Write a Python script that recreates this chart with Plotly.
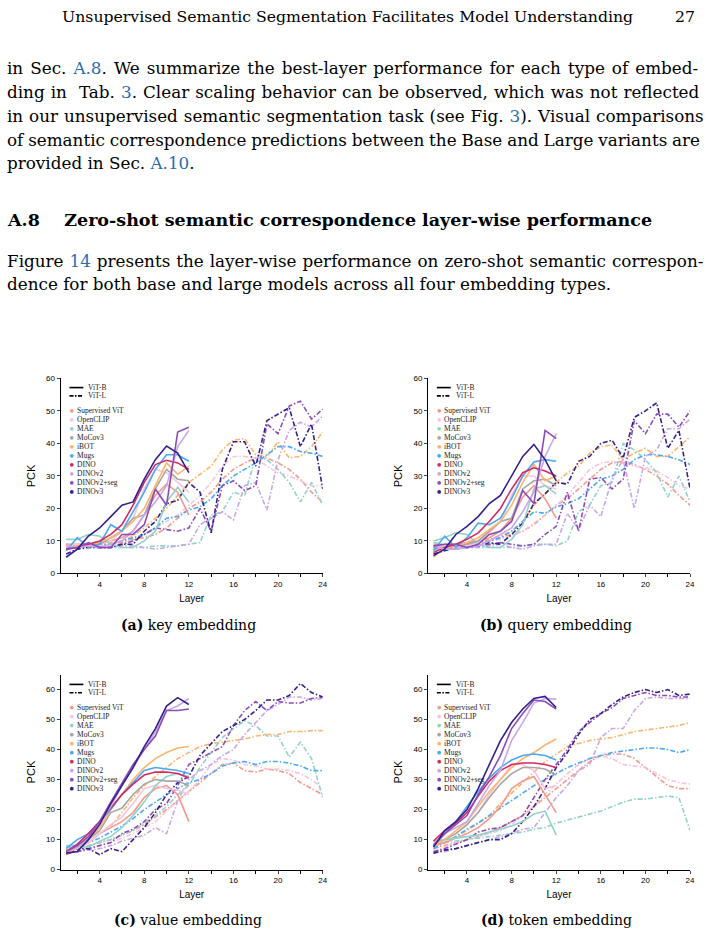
import plotly.graph_objects as go

W, H = 706, 940

models = ["Supervised ViT", "OpenCLIP", "MAE", "MoCov3", "iBOT", "Mugs",
          "DINO", "DINOv2", "DINOv2+seg", "DINOv3"]
colors = ["#F39A8A", "#F7C4DF", "#93D2C9", "#A6A6A6", "#FDB46E", "#4AA8F7",
          "#D42A63", "#C9A6E8", "#8C4CB8", "#33208A"]

layers_base = list(range(1, 13))
layers_large = list(range(1, 25))

# ---------------- key embedding ----------------
key_base = {
    "Supervised ViT": [9, 9, 9, 9.5, 10, 11, 13, 18, 24, 27.5, 25, 18],
    "OpenCLIP": [8.5, 9, 8.5, 9, 10, 13, 17, 26, 32, 31, 28, 25],
    "MAE": [10.5, 10.5, 12, 11.5, 9, 8, 8, 10, 13, 22, 26.5, 22],
    "MoCov3": [8, 8, 9, 9, 11, 13, 17, 18, 26, 32, 29, 28.5],
    "iBOT": [8, 8.5, 9, 9.5, 11, 13, 16, 20, 27, 34, 30.5, 33],
    "Mugs": [7, 11, 8, 9, 15, 13, 19, 25, 32, 36.5, 36.5, 34.5],
    "DINO": [7.5, 8, 9, 10, 12, 15, 21, 28, 33.5, 34.8, 34, 32],
    "DINOv2": [8.5, 8, 8.5, 8, 9, 10, 13, 18, 22, 27, 39, 44],
    "DINOv2+seg": [7.5, 8, 9.5, 8, 8, 12, 12, 15, 26, 21, 43.5, 45],
    "DINOv3": [5, 7.5, 11.5, 14, 17.5, 21, 22, 29, 35, 39.2, 37, 31],
}
key_large = {
    "Supervised ViT": [8, 8, 8.5, 8.5, 9, 9.5, 10.5, 11, 12, 14, 17, 20, 22, 25, 29, 32, 34, 35.5, 35.5, 34, 32, 29, 25, 22],
    "OpenCLIP": [8, 8, 8, 8.5, 9, 10, 10, 12, 14, 16, 18, 21, 24, 28, 33, 36, 36, 35.5, 33, 31, 30, 28.5, 27, 27],
    "MAE": [9, 8.5, 8, 8, 8, 8, 8, 8, 8.5, 8.5, 8.5, 9, 9.5, 18, 19, 25, 24, 36, 35, 32, 28, 22, 28, 21],
    "iBOT": [7.5, 8, 8.5, 9, 9.5, 10, 11.5, 14, 17, 20, 24, 28, 30.5, 33, 38, 41, 41.5, 36.5, 36, 40.5, 35.5, 36, 39, 43.5],
    "Mugs": [8, 8, 8.5, 9, 9, 10, 11, 12, 14, 17, 17.5, 19.5, 20.5, 23, 27, 30, 32, 34, 36.5, 39, 39, 37.5, 37, 36],
    "DINOv2": [9, 8.5, 8, 8, 8, 8.5, 8.5, 8, 7.5, 8, 8.5, 9, 15, 17, 19, 16.5, 27, 28, 19.5, 35, 44, 46.5, 45, 48.5],
    "DINOv2+seg": [8, 8, 8.5, 8, 8, 9, 10, 12, 14, 13.5, 13, 14, 20, 13, 27, 28.5, 25.5, 27, 46, 43, 51.5, 53, 47.5, 50.5],
    "DINOv3": [6, 7.5, 8, 8, 8, 9, 9, 13, 16, 21.5, 22.5, 28, 25, 12.5, 32, 40.5, 40.5, 33, 47, 49, 51, 39, 46, 26],
}

# ---------------- query embedding ----------------
query_base = {
    "Supervised ViT": [9, 8.5, 9, 9.5, 10, 11, 13, 17, 23.5, 27, 23, 17],
    "OpenCLIP": [8, 8.5, 8, 8.5, 9.5, 12.5, 16, 24, 30, 30, 27, 26],
    "MAE": [10, 11, 12.5, 12, 9, 8, 8, 10.5, 15, 26, 27, 24.5],
    "MoCov3": [8, 8, 8.5, 9, 10, 13, 16, 17, 26, 28.5, 29, 27],
    "iBOT": [5, 8, 8.5, 9.5, 11, 13.5, 16, 21, 28, 33.5, 28.5, 30],
    "Mugs": [7, 11.5, 8, 11, 15.5, 15, 17, 23, 30, 34.3, 35, 34.5],
    "DINO": [6.5, 8, 9, 10.5, 12.5, 16, 20, 26, 31, 32.5, 31.5, 30],
    "DINOv2": [8.5, 7.5, 7.5, 8, 8.5, 10, 12, 14, 19, 25, 36, 43],
    "DINOv2+seg": [8.5, 9, 9, 8, 9, 12, 13, 16, 25.5, 21.5, 44, 41.5],
    "DINOv3": [5.5, 7.5, 12, 14.5, 17.5, 21.5, 24, 30, 36, 39.7, 35, 28.5],
}
query_large = {
    "Supervised ViT": [8, 8, 8.5, 9, 9, 10, 11, 12, 13, 15, 18, 21, 23, 26, 29, 32, 34, 34.5, 33.5, 32, 30, 27.5, 24, 21],
    "OpenCLIP": [8, 8, 8, 8.5, 9, 10, 10.5, 11.5, 13, 15.5, 18, 21, 24, 28, 32, 34, 34.5, 34, 33, 32.5, 31.5, 29.5, 27, 26],
    "MAE": [9.5, 9, 8.5, 8, 8, 8, 8, 8, 8.5, 9, 9, 8.5, 10, 19, 21, 27, 28, 40, 38, 35, 31, 23.5, 30, 22],
    "iBOT": [6.5, 8, 8.5, 9, 9.5, 10.5, 11.5, 13, 16, 21, 24.5, 28, 31, 33, 37, 39, 39.5, 35, 37, 38.5, 36, 36, 39, 42],
    "Mugs": [7.5, 8, 8.5, 9, 9.5, 10, 11, 13, 16, 19, 18.5, 20.5, 21.5, 23, 26, 29, 30, 32, 35, 36.5, 36.5, 36, 35, 33.5],
    "DINOv2": [8, 8, 7.5, 8, 8, 8.5, 9, 8, 7.5, 8.5, 9, 9, 18.5, 13.5, 21, 17.5, 29, 35, 20, 36, 38, 44.5, 44.5, 47.5],
    "DINOv2+seg": [8.5, 8, 8, 8, 8.5, 9, 9.5, 9, 8.5, 9, 12, 14.5, 25, 13, 29, 29.5, 26, 29, 47, 43, 49, 49, 45, 50],
    "DINOv3": [6, 7, 8, 8, 8.5, 9.5, 9, 12, 15.5, 21.5, 24.5, 28, 27.5, 34.5, 36, 40, 41, 35.5, 48, 50, 52.5, 38.5, 44, 26],
}

# ---------------- value embedding ----------------
value_base = {
    "Supervised ViT": [6.5, 7.5, 9, 12, 14, 16, 19, 24, 27, 28, 25, 16],
    "OpenCLIP": [6, 7, 9, 12, 15, 17.5, 22, 27, 28, 27, 26.5, 25],
    "MAE": [8, 8, 7.5, 9.5, 11, 14, 18, 22.5, 28, 31, 32, 31],
    "MoCov3": [6, 7.5, 10, 13, 19, 20.5, 25, 28.5, 30, 29.5, 29.5, 28],
    "iBOT": [5, 7.5, 10, 14, 20, 25, 30, 34, 37, 39, 40.5, 41],
    "Mugs": [7, 10, 12, 16, 20, 25, 29, 33, 34, 33.5, 33, 32],
    "DINO": [6, 8.5, 12, 16, 20.5, 25, 28.5, 31.5, 32.5, 32.5, 32, 30.5],
    "DINOv2": [6, 7.5, 10.5, 15.5, 21, 28, 34, 40, 46, 53, 54.5, 57],
    "DINOv2+seg": [6, 8, 11, 16, 22.5, 29, 35, 40, 44.5, 53, 53, 53.5],
    "DINOv3": [5.5, 6, 10, 15, 22, 28, 34, 41, 47, 54.5, 57.3, 55],
}
value_large = {
    "Supervised ViT": [6, 7, 8, 9, 10, 11.5, 13, 15, 17.5, 20, 23, 26, 29, 32, 35, 35.5, 33, 32.5, 33.5, 33, 32, 29, 27, 25],
    "OpenCLIP": [5.5, 6, 7, 8, 9, 10.5, 12, 14, 16, 19.5, 23, 26, 30, 35, 37, 36.5, 35, 34.5, 33.5, 33.5, 33, 32, 30, 27],
    "MAE": [7.5, 7.5, 8, 9, 10, 11.5, 13, 15.5, 18, 21, 25, 28, 34, 39, 44, 47, 49.5, 48, 44.5, 44.5, 37.5, 42.5, 37, 24],
    "iBOT": [5, 7, 9, 12, 14.5, 19, 24, 28, 31, 34, 37, 39, 41, 42, 42.5, 43, 43.5, 44.5, 45, 45, 46, 46, 46.3, 46.3],
    "Mugs": [6, 7, 9, 10.5, 12.5, 14.5, 17, 20, 22.5, 25, 27, 29, 30, 32, 34.5, 35.5, 36, 35, 36, 36, 35.5, 34.5, 33, 33],
    "DINOv2": [5.5, 6, 6.5, 7, 8, 9.5, 10.5, 11.5, 14, 12, 23, 30, 33, 35, 38, 40, 45, 49, 53, 55, 57.5, 57.5, 56.5, 57],
    "DINOv2+seg": [5.5, 6, 7, 8, 9, 12, 13.5, 16, 20, 22, 28, 35, 37, 39, 41, 48, 53, 56, 53, 56, 55.5, 55.5, 57, 57.5],
    "DINOv3": [5, 7, 7, 5, 7, 6, 10, 14, 19, 25, 29, 31, 38, 42, 46, 48, 50, 53, 56.5, 56.5, 58, 62, 59, 57.5],
}

# ---------------- token embedding ----------------
token_base = {
    "Supervised ViT": [8, 9, 10.5, 12, 14, 17, 21, 27, 29.5, 31, 25, 19],
    "OpenCLIP": [8, 10, 12, 15, 19, 25, 30, 35, 35, 33, 27, 28],
    "MAE": [9.5, 10, 10.5, 11, 11.5, 12.5, 13.5, 14.5, 16, 18.5, 19.5, 11.5],
    "MoCov3": [8, 10, 12, 15, 19, 24, 28.5, 32, 34, 34, 33.5, 31.5],
    "iBOT": [8, 10, 13, 16, 21, 26, 30, 34, 37, 39, 41.5, 43.5],
    "Mugs": [8, 12, 16, 21, 26, 30.5, 34, 36.5, 38, 38.5, 38, 36.5],
    "DINO": [9.5, 13, 15.5, 19, 24.5, 29.5, 33, 35, 35.5, 35.5, 35, 34],
    "DINOv2": [8.5, 12, 14, 16, 22, 28, 33, 43, 49, 55.5, 57, 56.8],
    "DINOv2+seg": [8, 12, 15, 18, 25, 31, 38, 47, 52, 56.5, 56, 53.5],
    "DINOv3": [7.5, 13, 16, 20, 27, 35, 43, 49, 53.5, 57, 57.7, 54],
}
token_large = {
    "Supervised ViT": [7, 8, 9, 10, 11, 12.5, 14, 16, 18, 21, 24, 27, 30, 33, 36, 38, 38.5, 38.5, 37, 34, 31, 28, 27, 27],
    "OpenCLIP": [6, 7.5, 9, 10, 11, 12, 13, 15, 18, 21, 25, 28.5, 32, 35, 37, 38, 37, 35, 34.5, 34, 32, 30, 29, 28.5],
    "MAE": [8.5, 9, 9.5, 10, 10.5, 11, 11.5, 12, 12.5, 13.5, 14, 15.5, 16.5, 17.5, 18.5, 19.5, 21, 22.5, 23.5, 23.5, 24, 24.5, 24, 13],
    "iBOT": [7.5, 9, 11, 13, 15.5, 18, 22, 25.5, 29, 32.5, 36, 38.5, 41, 42, 43, 43.5, 44, 45, 46, 46.5, 47, 47.5, 48, 49],
    "Mugs": [7, 9, 11, 13.5, 15.5, 18, 20.5, 23, 25.5, 28, 30, 32, 34, 35.5, 37, 38, 39, 39.5, 40, 40.5, 40.5, 40, 39, 40],
    "DINOv2": [5.5, 6, 7, 8, 9, 10, 11, 12, 13.5, 14, 19, 24, 28, 33, 35, 44, 47, 47, 53, 57, 57.5, 57, 57, 57],
    "DINOv2+seg": [6, 7, 8.5, 10, 12.5, 13.5, 14, 16, 18, 24, 30, 35, 40, 46, 49, 52, 54, 57, 58, 59, 58, 58, 57.5, 57.5],
    "DINOv3": [5.5, 6.5, 7, 8, 9, 10, 10, 12, 16, 21, 27, 34, 39, 45, 50, 52, 55, 57.5, 59, 60, 59, 60, 58, 58.5],
}

captions = ["key embedding", "query embedding", "value embedding", "token embedding"]
letters = ["(a)", "(b)", "(c)", "(d)"]

# ---------------------------------------------------------------
def px(x):
    return x / W


def py(y):
    return 1 - y / H


SERIF = "DejaVu Serif"
SANS = "Liberation Sans"
LSERIF = "Liberation Serif"
DASH = "5px,2px,1.5px,2px"

panels = [
    # (axis suffix, data base, data large, left px, right px, top px, bottom px, ymax)
    ("", key_base, key_large, 61, 325, 378, 575, 60),
    ("2", query_base, query_large, 431, 695, 378, 575, 60),
    ("3", value_base, value_large, 61, 325, 677, 874, 65),
    ("4", token_base, token_large, 431, 695, 677, 874, 65),
]

fig = go.Figure()
layout_axes = {}
for i, (suf, base, large, l, r, t, b, ymax) in enumerate(panels):
    xa, ya = "x" + suf, "y" + suf
    for m, c in zip(models, colors):
        if m in large:
            fig.add_trace(go.Scatter(x=layers_large, y=large[m], mode="lines",
                                     line=dict(color=c, width=1.6, dash=DASH),
                                     xaxis=xa, yaxis=ya, showlegend=False, name=m + " ViT-L"))
    for m, c in zip(models, colors):
        if m in base:
            fig.add_trace(go.Scatter(x=layers_base, y=base[m], mode="lines",
                                     line=dict(color=c, width=1.6),
                                     xaxis=xa, yaxis=ya, showlegend=False, name=m + " ViT-B"))
    layout_axes["xaxis" + suf] = dict(
        domain=[px(l), px(r)], anchor=ya, range=[0.5, 24],
        tickvals=[4, 8, 12, 16, 20, 24], ticks="outside", ticklen=3, tickwidth=1,
        minor=dict(tickvals=[2, 6, 10, 14, 18, 22], ticks="outside", ticklen=3, tickwidth=1, tickcolor="black"),
        showline=True, linecolor="black", linewidth=1, showgrid=False, zeroline=False,
        tickfont=dict(family=SANS, size=8, color="black"),
        title=dict(text="Layer", font=dict(family=SANS, size=10, color="black"), standoff=6),
    )
    layout_axes["yaxis" + suf] = dict(
        domain=[py(b), py(t)], anchor=xa, range=[0, ymax],
        tickvals=[0, 10, 20, 30, 40, 50, 60], ticks="outside", ticklen=3, tickwidth=1,
        showline=True, linecolor="black", linewidth=1, showgrid=False, zeroline=False,
        tickfont=dict(family=SANS, size=8, color="black"),
        title=dict(text="PCK", font=dict(family=SANS, size=11, color="black"), standoff=8),
    )

fig.update_layout(**layout_axes)

shapes = []
annotations = []

# legends drawn inside every panel
for i, (suf, base, large, l, r, t, b, ymax) in enumerate(panels):
    dx = l - 61
    top = 387.3 if t == 378 else 687
    for j, (lab, dash) in enumerate([("ViT-B", "solid"), ("ViT-L", "4px,1.5px,1.5px,1.5px")]):
        yy = top + j * 8.4
        shapes.append(dict(type="line", xref="paper", yref="paper",
                           x0=px(70 + dx), x1=px(84 + dx), y0=py(yy), y1=py(yy),
                           line=dict(color="black", width=1.6, dash=dash)))
        annotations.append(dict(text=lab, x=px(87 + dx), y=py(yy), xref="paper", yref="paper",
                                xanchor="left", yanchor="middle", showarrow=False,
                                font=dict(family=LSERIF, size=7.5, color="#222")))
    y0 = top + 23.4
    for k, (m, c) in enumerate(zip(models, colors)):
        yy = y0 + k * 9.1
        shapes.append(dict(type="circle", xref="paper", yref="paper",
                           x0=px(72.3 + dx - 1.9), x1=px(72.3 + dx + 1.9),
                           y0=py(yy + 1.9), y1=py(yy - 1.9),
                           fillcolor=c, line=dict(width=0)))
        annotations.append(dict(text=m, x=px(75.5 + dx), y=py(yy), xref="paper", yref="paper",
                                xanchor="left", yanchor="middle", showarrow=False,
                                font=dict(family=LSERIF, size=7.5, color="#222")))

# captions
cap_pos = [(190, 627), (560, 627), (189, 925), (560, 925)]
for (cx, cy), let, cap in zip(cap_pos, letters, captions):
    annotations.append(dict(text="<b>" + let + "</b> " + cap, x=px(cx), y=py(cy),
                            xref="paper", yref="paper", xanchor="center", yanchor="middle",
                            showarrow=False, font=dict(family=SERIF, size=14, color="black")))

# page text (justified through word spacing)
BLUE = "#2B6CB0"


def para(segments, ws):
    out = []
    for s, is_link in segments:
        st = "word-spacing:%.2fpx" % ws
        if is_link:
            st = "color:%s;%s" % (BLUE, st)
        out.append('<span style="%s">%s</span>' % (st, s))
    return "".join(out)


body = [
    ([("in Sec. ", 0), ("A.8", 1), (". We summarize the best-layer performance for each type of embed-", 0)], 65, 1.7),
    ([("ding in &#160;Tab. ", 0), ("3", 1), (". Clear scaling behavior can be observed, which was not reflected", 0)], 89, 0.7),
    ([("in our unsupervised semantic segmentation task (see Fig. ", 0), ("3", 1), ("). Visual comparisons", 0)], 113, 0.6),
    ([("of semantic correspondence predictions between the Base and Large variants are", 0)], 137, -0.5),
    ([("provided in Sec. ", 0), ("A.10", 1), (".", 0)], 161, 0.0),
    ([("Figure ", 0), ("14", 1), (" presents the layer-wise performance on zero-shot semantic correspon-", 0)], 259, 0.65),
    ([("dence for both base and large models across all four embedding types.", 0)], 283, 0.0),
]
for segs, y, ws in body:
    annotations.append(dict(text=para(segs, ws), x=px(5), y=py(y), xref="paper", yref="paper",
                            xanchor="left", yanchor="middle", showarrow=False,
                            font=dict(family=SERIF, size=16.8, color="black")))

annotations.append(dict(text="<b>A.8&#160;&#160;&#160;&#160;Zero-shot semantic correspondence layer-wise performance</b>",
                        x=px(5), y=py(218), xref="paper", yref="paper",
                        xanchor="left", yanchor="middle", showarrow=False,
                        font=dict(family=SERIF, size=17.5, color="black")))
annotations.append(dict(text="Unsupervised Semantic Segmentation Facilitates Model Understanding",
                        x=px(60), y=py(13), xref="paper", yref="paper",
                        xanchor="left", yanchor="middle", showarrow=False,
                        font=dict(family=SERIF, size=15.7, color="black")))
annotations.append(dict(text="27", x=px(702), y=py(13), xref="paper", yref="paper",
                        xanchor="right", yanchor="middle", showarrow=False,
                        font=dict(family=SERIF, size=15.7, color="black")))

fig.update_layout(
    width=W, height=H, margin=dict(l=0, r=0, t=0, b=0),
    paper_bgcolor="white", plot_bgcolor="white",
    shapes=shapes, annotations=annotations, showlegend=False,
)

fig.write_html("out.html")
